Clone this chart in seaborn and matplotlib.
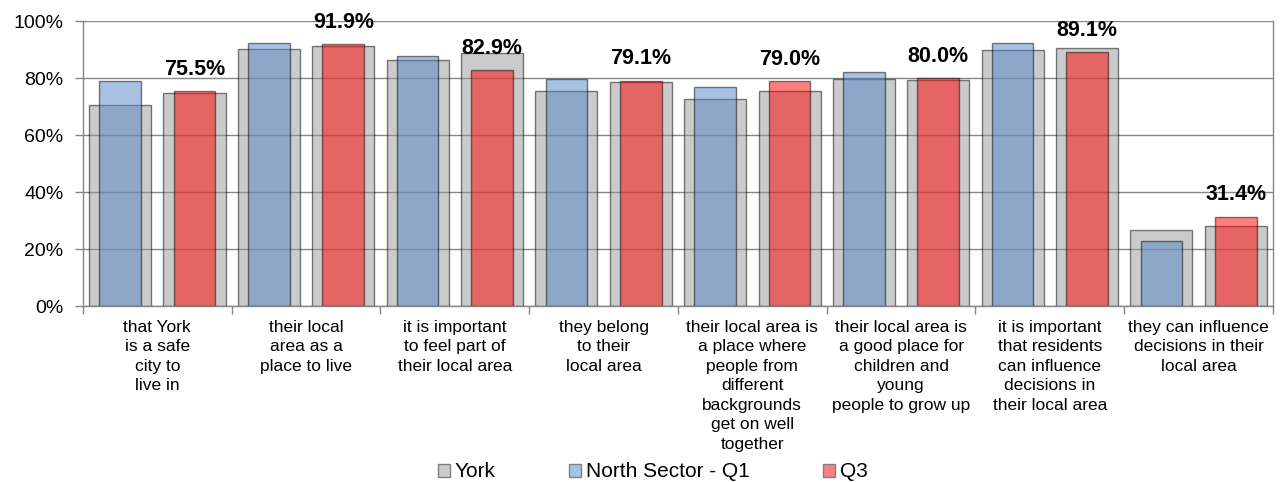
import numpy as np
import pandas as pd
import matplotlib.pyplot as plt
import seaborn as sns
from matplotlib.patches import Patch
from matplotlib.ticker import FixedLocator, FuncFormatter

# --- data (percent) ---
categories = [
    "that York\nis a safe\ncity to\nlive in",
    "their local\narea as a\nplace to live",
    "it is important\nto feel part of\ntheir local area",
    "they belong\nto their\nlocal area",
    "their local area is\na place where\npeople from\ndifferent\nbackgrounds\nget on well\ntogether",
    "their local area is\na good place for\nchildren and\nyoung\npeople to grow up",
    "it is important\nthat residents\ncan influence\ndecisions in\ntheir local area",
    "they can influence\ndecisions in their\nlocal area",
]
waves = ["Q1", "Q3"]
york_q1 = [70.4, 90.1, 86.2, 75.4, 72.8, 79.8, 90.0, 26.8]
york_q3 = [74.8, 91.3, 88.9, 78.5, 75.4, 79.4, 90.4, 28.2]
north_q1 = [78.9, 92.3, 87.6, 79.5, 76.9, 82.2, 92.3, 22.9]
north_q3 = [75.5, 91.9, 82.9, 79.1, 79.0, 80.0, 89.1, 31.4]
legend_labels = ["York", "North Sector - Q1", "Q3"]

york_df = pd.DataFrame({
    "category": categories * 2,
    "wave": ["Q1"] * len(categories) + ["Q3"] * len(categories),
    "value": york_q1 + york_q3,
})
north_df = pd.DataFrame({
    "category": categories * 2,
    "wave": ["Q1"] * len(categories) + ["Q3"] * len(categories),
    "value": north_q1 + north_q3,
})

sns.set_theme(style="white")
plt.rcParams['font.family'] = ['Liberation Sans', 'DejaVu Sans']
plt.rcParams['text.color'] = 'black'

grid_c = "#868686"
grey = "#999999"
blue = "#5185C9"
red = "#FF0000"

fig = plt.figure(figsize=(12.8, 4.82), dpi=100)
ax = fig.add_axes([0.0648, 0.365, 0.9297, 0.5914])

# York bars (wide, behind)
sns.barplot(data=york_df, x="category", y="value", hue="wave",
            order=categories, hue_order=waves, palette=[grey, grey],
            width=1.0, gap=0.166, errorbar=None, saturation=1,
            alpha=0.5, edgecolor="black", linewidth=1, legend=False, ax=ax)

# North Sector bars (narrow, in front)
sns.barplot(data=north_df, x="category", y="value", hue="wave",
            order=categories, hue_order=waves, palette={"Q1": blue, "Q3": red},
            width=1.0, gap=0.44, errorbar=None, saturation=1,
            alpha=0.5, edgecolor="black", linewidth=1, legend=False, ax=ax)

# labels on Q3 bars
ax.bar_label(ax.containers[3], labels=[f"{v:.1f}%" for v in north_q3],
             padding=8, fontsize=15.5, fontweight="bold", color="black")

ax.set_xlim(-0.5, len(categories) - 0.5)
ax.set_ylim(0, 100)
ax.set_yticks(range(0, 101, 20))
ax.yaxis.set_major_formatter(FuncFormatter(lambda v, p: f"{v:.0f}%"))
ax.set_xlabel("")
ax.set_ylabel("")

ax.xaxis.set_minor_locator(FixedLocator(np.arange(-0.5, len(categories), 1)))
ax.tick_params(axis="x", which="major", length=0, pad=10, labelsize=12.5, colors="black")
ax.tick_params(axis="x", which="minor", bottom=True, length=6, width=1, color=grid_c)
ax.tick_params(axis="y", left=True, length=6, width=1, color=grid_c,
               labelsize=14, pad=8, labelcolor="black")
for lab in ax.get_xticklabels():
    lab.set_linespacing(1.37)

ax.yaxis.grid(True, color=grid_c, linewidth=1)
ax.set_axisbelow(True)
ax.spines["top"].set_visible(False)
for s in ["left", "right", "bottom"]:
    ax.spines[s].set_color(grid_c)
    ax.spines[s].set_linewidth(1)

handles = [
    Patch(facecolor="#CCCCCC", edgecolor="#808080", label=legend_labels[0]),
    Patch(facecolor="#A8C2E4", edgecolor="#808080", label=legend_labels[1]),
    Patch(facecolor="#FF8080", edgecolor="#808080", label=legend_labels[2]),
]
fig.legend(handles=handles, loc="center", bbox_to_anchor=(0.51, 0.021), ncol=3,
           frameon=False, fontsize=15, handlelength=0.58, handleheight=0.58,
           handletextpad=0.25, columnspacing=3.5, borderpad=0)

fig.savefig("out.png", dpi=100)
